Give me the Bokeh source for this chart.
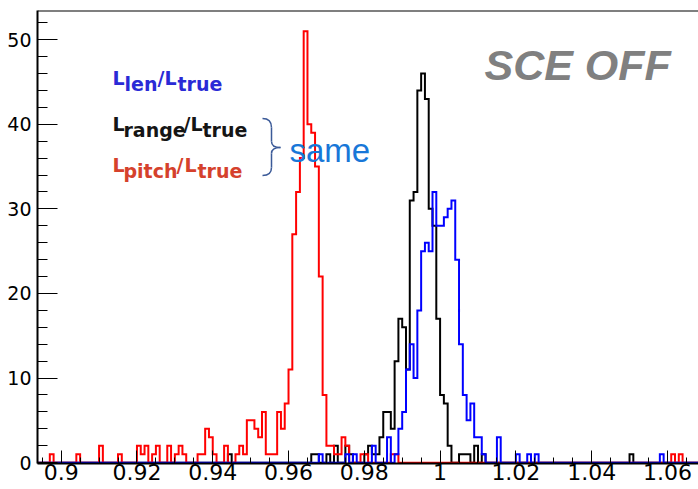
import numpy as np
from bokeh.plotting import figure
from bokeh.models import Range1d, SingleIntervalTicker, Label, Span, CustomJSTickFormatter
from bokeh.embed import file_html
from bokeh.resources import INLINE

# ---------------- data (bin low edge in units of 0.001, counts) ----------------
red_bins = [897, 904, 910, 915, 920, 921, 922, 924, 925, 928, 930, 931, 932, 936, 937,
            938, 939, 940, 943, 946, 947, 948, 949, 950, 951, 952, 953, 954, 955, 956,
            957, 958, 959, 960, 961, 962, 963, 964, 965, 966, 967, 968, 969, 970, 971,
            972, 973, 974, 975, 979, 980, 987, 988, 1061, 1063]
red_counts = [1, 1, 2, 1, 2, 1, 2, 1, 2, 2, 1, 2, 1, 1, 1,
              4, 3, 1, 2, 1, 2, 1, 5, 5, 4, 3, 6, 1, 1, 1,
              6, 4, 7, 11, 27, 32, 36, 51, 40, 39, 35, 22, 8, 2, 2,
              1, 1, 3, 2, 1, 1, 1, 1, 1, 1]

black_bins = [944, 966, 967, 970, 972, 975, 976, 980, 981, 982, 983, 984, 985, 986, 987,
              988, 989, 990, 991, 992, 993, 994, 995, 996, 997, 998, 999, 1000, 1001, 1002,
              1005, 1006, 1007, 1009, 1011, 1050]
black_counts = [1, 1, 1, 1, 2, 2, 1, 1, 2, 1, 1, 3, 6, 6, 4,
                12, 17, 16, 11, 31, 32, 44, 46, 43, 30, 28, 17, 8, 7, 2,
                1, 1, 1, 2, 1, 1]

blue_bins = [968, 975, 977, 982, 986, 988, 989, 990, 991, 992, 993, 994, 995, 996, 997,
             998, 999, 1000, 1001, 1002, 1003, 1004, 1005, 1006, 1007, 1008, 1009, 1010,
             1011, 1015, 1020, 1023, 1025, 1058]
blue_counts = [1, 1, 1, 2, 3, 1, 4, 6, 11, 14, 10, 18, 25, 26, 25,
               32, 28, 28, 29, 30, 31, 24, 14, 8, 5, 7, 3, 3,
               1, 3, 1, 1, 1, 1]

bin_width = 0.001
hist_lo, hist_hi = 890, 1070          # histogram range in units of bin_width
x_ticks_step = 0.02
y_ticks_step = 10

# ---------------- geometry ----------------
W, H = 698, 489
FL, FR, FT, FB = 37, 698, 10, 463
X0, X1 = 0.89375, 1.0682
Y0, Y1 = -0.1, 53.45


def px2x(px):
    return X0 + (px - FL) / (FR - FL) * (X1 - X0)


def py2y(py):
    return Y1 - (py - FT) / (FB - FT) * (Y1 - Y0)


def step_path(bins, counts):
    n = hist_hi - hist_lo
    vals = np.zeros(n)
    for b, c in zip(bins, counts):
        vals[b - hist_lo] = c
    edges = (np.arange(hist_lo, hist_hi + 1)) * bin_width
    xs = np.repeat(edges, 2)
    ys = np.concatenate([[0.0], np.repeat(vals, 2), [0.0]])
    return xs, ys


def text_at(txt, px, base_py, size, font, color, style="normal", asc_desc=0.346):
    # label centred vertically on the font box; place its baseline at base_py
    cy = base_py - asc_desc * size
    return Label(x=px2x(px), y=py2y(cy), text=txt, text_font=font,
                 text_font_size=f"{size}px", text_font_style=style,
                 text_color=color, text_baseline="middle", text_align="left")


p = figure(width=W, height=H, x_range=Range1d(X0, X1), y_range=Range1d(Y0, Y1),
           output_backend="svg", toolbar_location=None,
           min_border_left=FL, min_border_right=0, min_border_top=FT,
           min_border_bottom=H - FB)
p.background_fill_color = "white"
p.border_fill_color = "white"
p.xgrid.visible = False
p.ygrid.visible = False
p.outline_line_color = None
p.add_layout(Span(location=Y1, dimension="width", line_color="black", line_width=2))

for bins, counts, col in [(black_bins, black_counts, "#000000"),
                          (red_bins, red_counts, "#ff0000"),
                          (blue_bins, blue_counts, "#0000ff")]:
    xs, ys = step_path(bins, counts)
    p.line(xs, ys, line_color=col, line_width=2, line_join="miter")

# axes
xa = p.xaxis[0]
xa.ticker = SingleIntervalTicker(interval=x_ticks_step, num_minor_ticks=4)
xa.formatter = CustomJSTickFormatter(code="return parseFloat(tick.toFixed(3)).toString();")
xa.major_tick_in = 13
xa.major_tick_out = 0
xa.minor_tick_in = 6
xa.minor_tick_out = 0
xa.axis_line_width = 2
xa.major_label_text_font = "DejaVu Sans"
xa.major_label_text_font_size = "22px"
xa.major_label_text_color = "black"
xa.major_label_standoff = 0

ya = p.yaxis[0]
ya.ticker = SingleIntervalTicker(interval=y_ticks_step, num_minor_ticks=5)
ya.major_tick_in = 20
ya.major_tick_out = 0
ya.minor_tick_in = 10
ya.minor_tick_out = 0
ya.axis_line_width = 2
ya.major_label_text_font = "DejaVu Sans"
ya.major_label_text_font_size = "19px"
ya.major_label_text_color = "black"
ya.major_label_standoff = 6

# ---------------- annotations ----------------
p.add_layout(text_at("SCE OFF", 484, 79, 43, "Liberation Sans", "#808080",
                     style="bold italic", asc_desc=0.347))

legend_rows = [
    ("#2a2ad6", 84, [("L", 112, 0), ("len", 124, 6), ("/", 157, 0), ("L", 164, 0), ("true", 177, 6)]),
    ("#151515", 130, [("L", 112, 0), ("range", 123, 6), ("/", 183, 0), ("L", 190, 0), ("true", 202, 6)]),
    ("#d5412c", 171, [("L", 112, 0), ("pitch", 123, 6), ("/", 176, 0), ("L", 184, 0), ("true", 197, 6)]),
]
for col, base, pieces in legend_rows:
    for txt, px, dy in pieces:
        p.add_layout(text_at(txt, px, base + dy, 19, "DejaVu Sans", col, style="bold"))

# curly brace
bc = "#3b5a98"
bx0, bx1, btip = 262, 271, 280
p.quadratic(x0=[px2x(bx0), px2x(bx1), px2x(btip), px2x(bx1)],
            y0=[py2y(118), py2y(141), py2y(147), py2y(167)],
            x1=[px2x(bx1), px2x(btip), px2x(bx1), px2x(bx0)],
            y1=[py2y(127), py2y(147), py2y(153), py2y(175)],
            cx=[px2x(bx1), px2x(bx1), px2x(bx1), px2x(bx1)],
            cy=[py2y(118), py2y(147), py2y(147), py2y(175)],
            line_color=bc, line_width=1.5)
p.segment(x0=[px2x(bx1), px2x(bx1)], y0=[py2y(127), py2y(153)],
          x1=[px2x(bx1), px2x(bx1)], y1=[py2y(141), py2y(167)],
          line_color=bc, line_width=1.5)

p.add_layout(text_at("same", 289, 161, 33, "Liberation Sans", "#1877d8", asc_desc=0.347))

open("out.html", "w").write(file_html(p, INLINE))
